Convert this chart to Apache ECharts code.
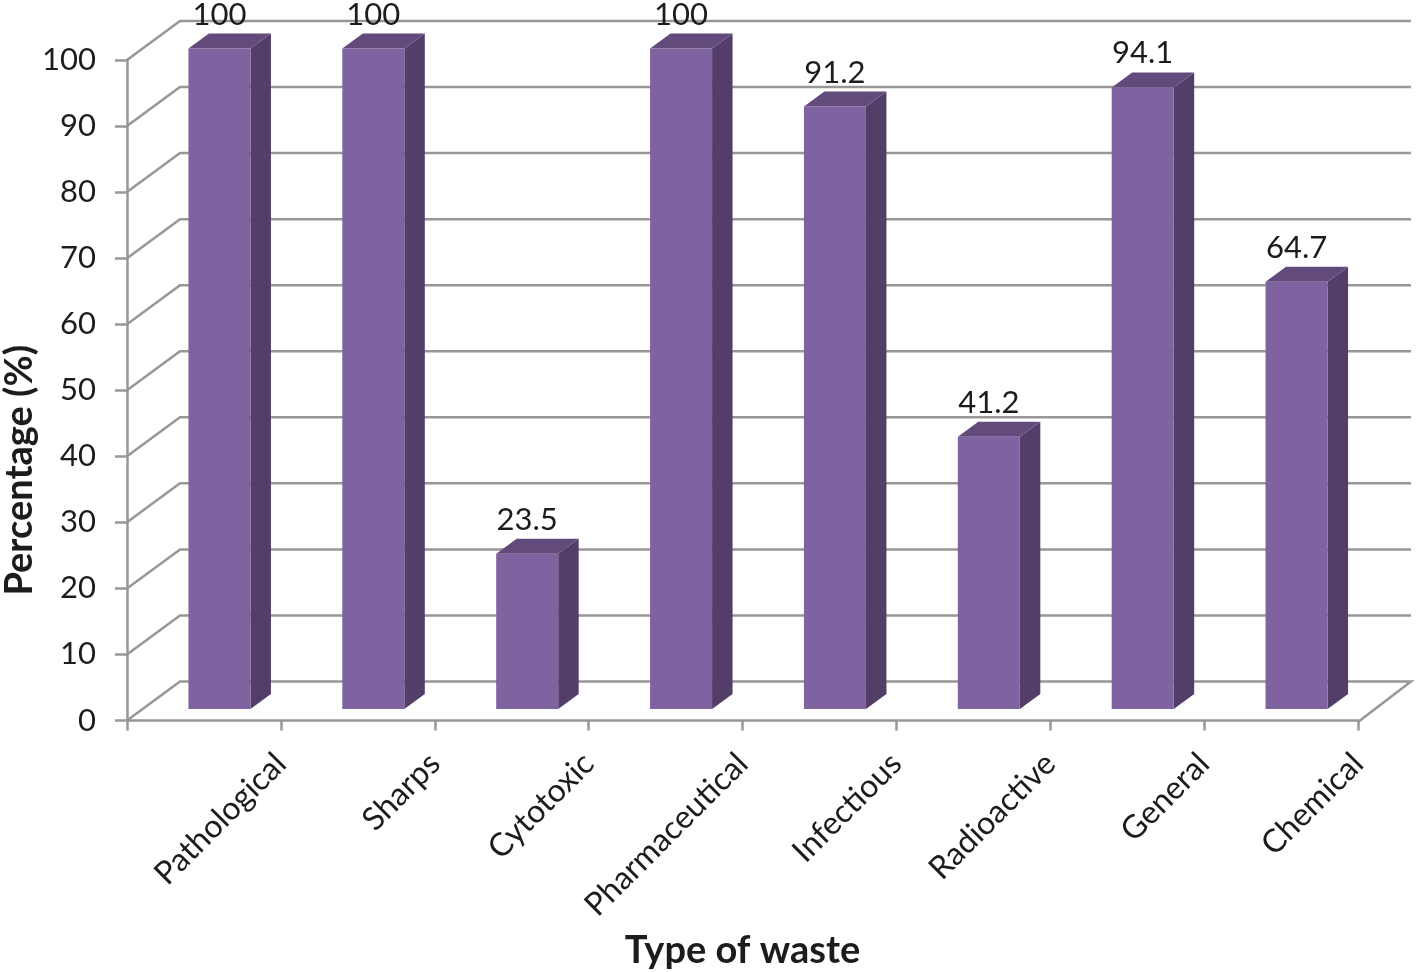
<!DOCTYPE html>
<html>
<head>
<meta charset="utf-8">
<style>
  html, body { margin: 0; background: #fff; }
  #chart { width: 1416px; height: 972px; }
</style>
<script src="https://cdn.jsdelivr.net/npm/echarts@6/dist/echarts.min.js"></script>
</head>
<body>
<div id="chart"></div>
<script>
const categories = ['Pathological', 'Sharps', 'Cytotoxic', 'Pharmaceutical', 'Infectious', 'Radioactive', 'General', 'Chemical']
const percentages = [100, 100, 23.5, 100, 91.2, 41.2, 94.1, 64.7]
const valueTicks = [0, 10, 20, 30, 40, 50, 60, 70, 80, 90, 100]

const FONT = 'Lato'
const TEXT = '#1c1c1c'
const LINE = '#979797'
// fake 3d depth of the walls and of the bars, in pixels
const WALL = { dx: 53, dy: 39 }
const BAR = { dx: 20.5, dy: 15, shiftX: 15.5, shiftY: 11.5, widthRatio: 0.403 }

function renderWall(params, api) {
  const sys = params.coordSys
  const y = api.coord([0, api.value(0)])[1]
  const x0 = sys.x
  const x1 = sys.x + sys.width
  const points = [[x0, y], [x0 + WALL.dx, y - WALL.dy], [x1 + WALL.dx, y - WALL.dy]]
  // the floor is closed on its right side
  if (api.value(0) === 0) points.push([x1, y + 1.5])
  return {
    type: 'polyline',
    shape: { points },
    style: { fill: 'none', stroke: LINE, lineWidth: 2.5 },
  }
}

function renderBar(params, api) {
  const top = api.coord([api.value(0), api.value(1)])
  const base = api.coord([api.value(0), 0])
  const width = api.size([1, 0])[0] * BAR.widthRatio
  const cx = top[0] + BAR.shiftX
  const l = cx - width / 2
  const r = cx + width / 2
  const t = top[1] - BAR.shiftY
  const b = base[1] - BAR.shiftY
  return {
    type: 'group',
    children: [
      {
        type: 'polygon',
        shape: { points: [[r, t], [r + BAR.dx, t - BAR.dy], [r + BAR.dx, b - BAR.dy], [r, b]] },
        style: { fill: '#523e69' },
      },
      {
        type: 'polygon',
        shape: { points: [[l, t], [l + BAR.dx, t - BAR.dy], [r + BAR.dx, t - BAR.dy], [r, t]] },
        style: { fill: '#624b7c' },
      },
      {
        type: 'rect',
        shape: { x: l, y: t, width: width, height: b - t },
        style: { fill: '#7f63a1' },
      },
      {
        type: 'text',
        style: {
          text: String(api.value(1)),
          x: cx,
          y: t - 34,
          align: 'center',
          verticalAlign: 'middle',
          fontFamily: FONT,
          fontSize: 31,
          fill: TEXT,
        },
      },
    ],
  }
}

const chart = echarts.init(document.getElementById('chart'), null, { renderer: 'canvas' })

chart.setOption({
  animation: false,
  backgroundColor: '#fff',
  grid: { left: 127, right: 58, top: 60, bottom: 251.5, outerBoundsMode: 'none' },
  xAxis: [
    {
      type: 'category',
      data: categories,
      axisLine: { show: true, lineStyle: { color: LINE, width: 2.5 } },
      axisTick: { show: true, interval: 0, length: 10, lineStyle: { color: LINE, width: 2.5 } },
      axisLabel: { show: false },
      name: 'Type of waste',
      nameLocation: 'middle',
      nameGap: 211,
      nameTextStyle: { fontFamily: FONT, fontSize: 38, fontWeight: 'bold', color: TEXT },
    },
    {
      // labels sit on the ticks between the bars, so a second axis carries them
      type: 'category',
      position: 'bottom',
      boundaryGap: false,
      data: [''].concat(categories),
      axisLine: { show: false },
      axisTick: { show: false },
      axisLabel: {
        interval: 0,
        rotate: 45,
        margin: 38,
        fontFamily: FONT,
        fontSize: 32,
        color: TEXT,
      },
    },
  ],
  yAxis: {
    type: 'value',
    min: 0,
    max: 100,
    interval: 10,
    axisLine: { show: true, lineStyle: { color: LINE, width: 2.5 } },
    axisTick: { show: true, length: 12, lineStyle: { color: LINE, width: 2.5 } },
    splitLine: { show: false },
    axisLabel: { margin: 31, fontFamily: FONT, fontSize: 31, color: TEXT },
    name: 'Percentage (%)',
    nameLocation: 'middle',
    nameGap: 88,
    nameMoveOverlap: false,
    nameTextStyle: { fontFamily: FONT, fontSize: 38, fontWeight: 'bold', color: TEXT, padding: [0, 160, 0, 0] },
  },
  series: [
    {
      type: 'custom',
      coordinateSystem: 'cartesian2d',
      xAxisIndex: 0,
      renderItem: renderWall,
      data: valueTicks.map(v => [v]),
      encode: { y: 0 },
      silent: true,
      z: 1,
    },
    {
      type: 'custom',
      coordinateSystem: 'cartesian2d',
      xAxisIndex: 0,
      renderItem: renderBar,
      data: percentages.map((v, i) => [i, v]),
      encode: { x: 0, y: 1 },
      z: 2,
    },
  ],
})
</script>
</body>
</html>
